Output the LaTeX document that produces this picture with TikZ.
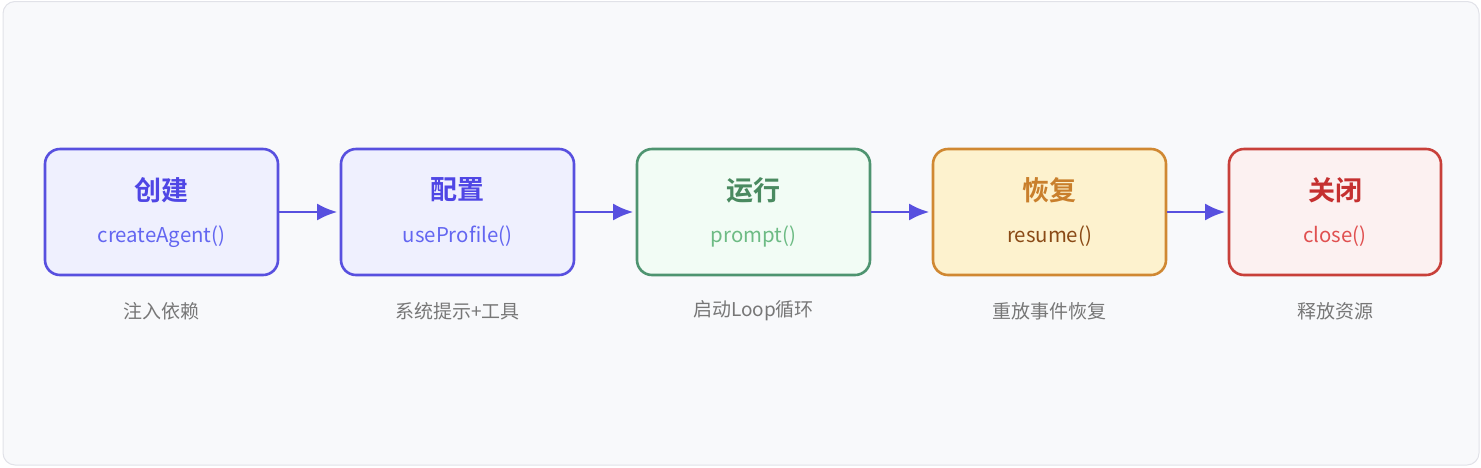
\documentclass[tikz,border=0pt]{standalone}
\usepackage{fontspec}
\setmainfont{Noto Sans CJK SC}[BoldFont={Noto Sans CJK SC Bold}]
\usetikzlibrary{arrows.meta}

\definecolor{panelbg}{HTML}{F8F9FB}
\definecolor{panelline}{HTML}{E1E2E8}
\definecolor{indigoline}{HTML}{5850DF}
\definecolor{indigofill}{HTML}{EFF0FE}
\definecolor{indigotext}{HTML}{4F46E5}
\definecolor{indigocode}{HTML}{6366F1}
\definecolor{greenline}{HTML}{4E9470}
\definecolor{greenfill}{HTML}{F2FCF5}
\definecolor{greentext}{HTML}{4A8A60}
\definecolor{greencode}{HTML}{6DBB84}
\definecolor{amberline}{HTML}{D08832}
\definecolor{amberfill}{HTML}{FDF2CE}
\definecolor{ambertext}{HTML}{C97F2C}
\definecolor{ambercode}{HTML}{8A4A16}
\definecolor{redline}{HTML}{C8403A}
\definecolor{redfill}{HTML}{FCF1F1}
\definecolor{redtext}{HTML}{C53030}
\definecolor{redcode}{HTML}{E05050}
\definecolor{notegray}{HTML}{777777}

\begin{document}
\begin{tikzpicture}[x=1pt,y=-1pt]
        \tikzset{stage/.style = {shape=rectangle,rounded corners=15pt,line width=2.6pt,minimum width=233pt,minimum height=126pt}}
        \tikzset{title/.style = {font=\fontsize{27}{32}\selectfont\bfseries}}
        \tikzset{call/.style = {font=\fontsize{20.4}{24}\selectfont}}
        \tikzset{note/.style = {font=\fontsize{19}{22}\selectfont,text=notegray}}
        \tikzset{edge/.style = {line width=2.6pt,draw=indigoline,-{Latex[length=20pt,width=17pt]},shorten >=2.5pt}}
        \useasboundingbox (0,0) rectangle (1481,467);
        \draw[fill=panelbg,draw=panelline,line width=1pt,rounded corners=12pt] (3,1.5) rectangle (1479,465);

        \node[stage, draw=indigoline, fill=indigofill] (create) at (161.5, 212) {};
        \node[stage, draw=indigoline, fill=indigofill] (config) at (457.5, 212) {};
        \node[stage, draw=greenline, fill=greenfill] (run) at (753.5, 212) {};
        \node[stage, draw=amberline, fill=amberfill] (resume) at (1049.5, 212) {};
        \node[stage, draw=redline, fill=redfill, minimum width=212pt] (close) at (1335, 212) {};

        \node[title, text=indigotext] (create-t) at (161.5, 190) {创建};
        \node[call, text=indigocode] (create-c) at (161.5, 236.5) {createAgent()};
        \node[title, text=indigotext] (config-t) at (457.5, 190) {配置};
        \node[call, text=indigocode] (config-c) at (457.5, 236.5) {useProfile()};
        \node[title, text=greentext] (run-t) at (753.5, 190) {运行};
        \node[call, text=greencode] (run-c) at (753.5, 236.5) {prompt()};
        \node[title, text=ambertext] (resume-t) at (1049.5, 190) {恢复};
        \node[call, text=ambercode] (resume-c) at (1049.5, 236.5) {resume()};
        \node[title, text=redtext] (close-t) at (1335, 190) {关闭};
        \node[call, text=redcode] (close-c) at (1335, 236.5) {close()};

        \node[note] (create-n) at (161.5, 311) {注入依赖};
        \node[note] (config-n) at (457.5, 311) {系统提示+工具};
        \node[note] (run-n) at (753.5, 311) {启动Loop循环};
        \node[note] (resume-n) at (1049.5, 311) {重放事件恢复};
        \node[note] (close-n) at (1335, 311) {释放资源};

        \draw[edge] (create) to (config);
        \draw[edge] (config) to (run);
        \draw[edge] (run) to (resume);
        \draw[edge] (resume) to (close);
      \end{tikzpicture}
\end{document}
